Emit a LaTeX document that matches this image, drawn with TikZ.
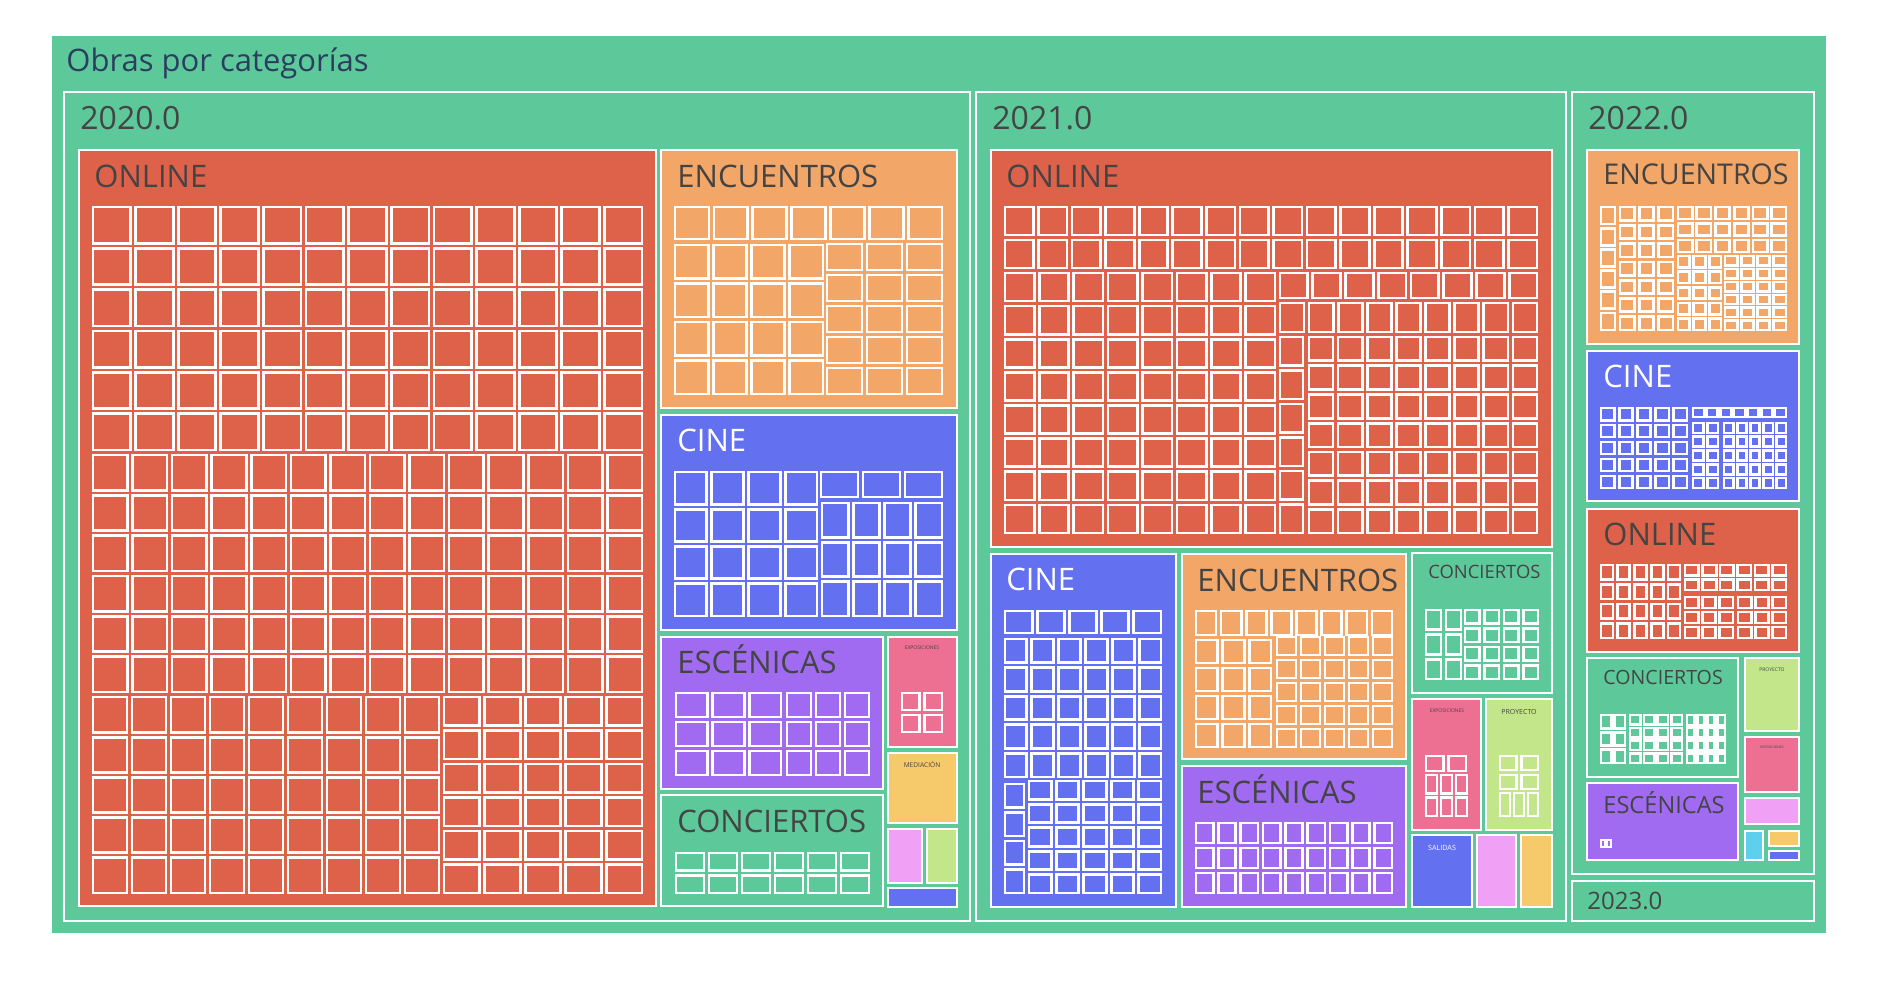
\documentclass[tikz,border=0pt]{standalone}
\usepackage{fontspec}
\setmainfont{Open Sans}
\usepackage{tikz}
\usetikzlibrary{positioning}
\definecolor{verde}{RGB}{93,201,154}
\definecolor{rojo}{RGB}{222,97,74}
\definecolor{naranja}{RGB}{242,166,104}
\definecolor{azul}{RGB}{99,113,241}
\definecolor{morado}{RGB}{160,107,240}
\definecolor{rosa}{RGB}{237,111,145}
\definecolor{amarillo}{RGB}{246,202,106}
\definecolor{lima}{RGB}{196,230,139}
\definecolor{malva}{RGB}{240,160,245}
\definecolor{cian}{RGB}{94,208,238}
\definecolor{gristxt}{RGB}{68,68,68}
\definecolor{titulo}{RGB}{42,63,95}
% rejilla de hojas: x0, y0, x1, y1, columnas, filas
\newcommand{\hojas}[6]{%
  \pgfmathsetmacro{\hg}{min(5,0.3*(#3-#1)/#5,0.3*(#4-#2)/#6)}%
  \pgfmathsetmacro{\hw}{(#3-#1+\hg)/#5}%
  \pgfmathsetmacro{\hh}{(#4-#2+\hg)/#6}%
  \foreach \i in {1,...,#5}{\foreach \j in {1,...,#6}{%
    \draw[hoja] ({#1+(\i-1)*\hw},{#2+(\j-1)*\hh}) rectangle ++({\hw-\hg},{\hh-\hg});}}}

\begin{document}
\begin{tikzpicture}[x=0.5pt, y=-0.5pt,
    caja/.style={draw=white, line width=1pt},
    hoja/.style={draw=white, line width=1.35pt},
    lbl/.style={inner sep=0, anchor=base west, text=gristxt, font=\fontsize{15.5}{18}\selectfont},
    slbl/.style={inner sep=0, anchor=base, text=gristxt}]
    \fill[white] (0,0) rectangle (1880,982);
    \useasboundingbox (0,0) rectangle (1880,982);

    % raiz
    \fill[verde] (52,36) rectangle (1826,933);
    \node[lbl, text=titulo] (raiz) at (66,71) {Obras por categorías};

    % años
    \draw[caja, fill=verde] (64,92) rectangle (970,921);
    \draw[caja, fill=verde] (976,92) rectangle (1566,921);
    \draw[caja, fill=verde] (1572,92) rectangle (1814,874);
    \draw[caja, fill=verde] (1572,881) rectangle (1814,921);
    \node[lbl, font=\fontsize{16}{19}\selectfont] (a20) at (80,129) {2020.0};
    \node[lbl, font=\fontsize{16}{19}\selectfont] (a21) at (992,129) {2021.0};
    \node[lbl, font=\fontsize{16}{19}\selectfont] (a22) at (1588,129) {2022.0};
    \node[lbl, font=\fontsize{12}{14}\selectfont] (a23) at (1587,909) {2023.0};

    % 2020
    \draw[caja, fill=rojo] (79,150) rectangle (656,906);
    \draw[caja, fill=naranja] (661,150) rectangle (957,408);
    \draw[caja, fill=azul] (661,415) rectangle (957,630);
    \draw[caja, fill=morado] (661,637) rectangle (883,789);
    \draw[caja, fill=verde] (661,795) rectangle (883,906);
    \draw[caja, fill=rosa] (888,637) rectangle (957,747);
    \draw[caja, fill=amarillo] (888,753) rectangle (957,823);
    \draw[caja, fill=malva] (888,829) rectangle (922,883);
    \draw[caja, fill=lima] (927,829) rectangle (957,883);
    \draw[caja, fill=azul] (888,888) rectangle (957,907);
    \node[lbl] (on20) at (94,187) {ONLINE};
    \node[lbl] (en20) at (677,187) {ENCUENTROS};
    \node[lbl, text=white] (ci20) at (677,451) {CINE};
    \node[lbl] (es20) at (677,673) {ESCÉNICAS};
    \node[lbl] (co20) at (677,832) {CONCIERTOS};
    \node[slbl, font=\fontsize{2.5}{3}\selectfont] (ex20) at (922,649) {EXPOSICIONES};
    \node[slbl, font=\fontsize{3.3}{4}\selectfont] (me20) at (922,767) {MEDIACIÓN};
    \hojas{93}{207}{642}{450}{13}{6}
    \hojas{93}{455}{642}{692}{14}{6}
    \hojas{93}{697}{439}{893}{9}{5}
    \hojas{444}{697}{642}{893}{5}{6}
    \hojas{675}{207}{942}{239}{7}{1}
    \hojas{675}{245}{823}{394}{4}{4}
    \hojas{827}{244}{942}{394}{3}{5}
    \hojas{675}{472}{817}{616}{4}{4}
    \hojas{821}{472}{942}{497}{3}{1}
    \hojas{822}{503}{942}{616}{4}{3}
    \hojas{676}{693}{781}{775}{3}{3}
    \hojas{787}{693}{869}{775}{3}{3}
    \hojas{676}{853}{869}{893}{6}{2}
    \hojas{902}{693}{942}{732}{2}{2}

    % 2021
    \draw[caja, fill=rojo] (991,150) rectangle (1552,547);
    \draw[caja, fill=azul] (991,554) rectangle (1176,907);
    \draw[caja, fill=naranja] (1182,554) rectangle (1406,759);
    \draw[caja, fill=morado] (1182,766) rectangle (1406,907);
    \draw[caja, fill=verde] (1412,553) rectangle (1552,693);
    \draw[caja, fill=rosa] (1412,699) rectangle (1481,830);
    \draw[caja, fill=lima] (1486,699) rectangle (1552,830);
    \draw[caja, fill=azul] (1412,835) rectangle (1472,907);
    \draw[caja, fill=malva] (1477,835) rectangle (1516,907);
    \draw[caja, fill=amarillo] (1521,835) rectangle (1552,907);
    \node[lbl] (on21) at (1006,187) {ONLINE};
    \node[lbl, text=white] (ci21) at (1006,590) {CINE};
    \node[lbl] (en21) at (1197,591) {ENCUENTROS};
    \node[lbl] (es21) at (1197,803) {ESCÉNICAS};
    \node[lbl, font=\fontsize{9.2}{11}\selectfont] (co21) at (1428,578) {CONCIERTOS};
    \node[slbl, font=\fontsize{2.5}{3}\selectfont] (ex21) at (1447,712) {EXPOSICIONES};
    \node[slbl, font=\fontsize{3.5}{4}\selectfont] (pr21) at (1519,714) {PROYECTO};
    \node[slbl, text=white, font=\fontsize{3.6}{4}\selectfont] (sa21) at (1442,850) {SALIDAS};
    \hojas{1005}{207}{1537}{268}{16}{2}
    \hojas{1005}{273}{1275}{533}{8}{8}
    \hojas{1280}{273}{1537}{298}{8}{1}
    \hojas{1280}{303}{1537}{332}{9}{1}
    \hojas{1280}{337}{1303}{533}{1}{6}
    \hojas{1309}{337}{1537}{533}{8}{7}
    \hojas{1005}{611}{1161}{633}{5}{1}
    \hojas{1005}{639}{1161}{777}{6}{5}
    \hojas{1005}{784}{1024}{893}{1}{4}
    \hojas{1029}{781}{1161}{893}{5}{5}
    \hojas{1196}{611}{1392}{635}{8}{1}
    \hojas{1196}{640}{1271}{747}{3}{4}
    \hojas{1277}{637}{1392}{747}{5}{5}
    \hojas{1196}{823}{1392}{893}{9}{3}
    \hojas{1426}{610}{1461}{679}{2}{3}
    \hojas{1465}{610}{1538}{679}{4}{4}
    \hojas{1426}{756}{1466}{771}{2}{1}
    \hojas{1426}{775}{1467}{816}{3}{2}
    \hojas{1500}{756}{1538}{789}{2}{2}
    \hojas{1500}{793}{1538}{816}{3}{1}

    % 2022
    \draw[caja, fill=naranja] (1587,150) rectangle (1799,344);
    \draw[caja, fill=azul] (1587,351) rectangle (1799,501);
    \draw[caja, fill=rojo] (1587,509) rectangle (1799,652);
    \draw[caja, fill=verde] (1587,658) rectangle (1738,777);
    \draw[caja, fill=lima] (1745,658) rectangle (1799,731);
    \draw[caja, fill=rosa] (1745,737) rectangle (1799,792);
    \draw[caja, fill=malva] (1745,798) rectangle (1799,824);
    \draw[caja, fill=morado] (1587,783) rectangle (1738,860);
    \draw[caja, fill=cian] (1745,831) rectangle (1763,860);
    \draw[caja, fill=amarillo] (1769,831) rectangle (1799,846);
    \draw[caja, fill=azul] (1769,851) rectangle (1799,860);
    \node[lbl, font=\fontsize{14.3}{17}\selectfont] (en22) at (1603,184) {ENCUENTROS};
    \node[lbl, text=white] (ci22) at (1603,387) {CINE};
    \node[lbl] (on22) at (1603,545) {ONLINE};
    \node[lbl, font=\fontsize{9.8}{11}\selectfont] (co22) at (1603,684) {CONCIERTOS};
    \node[lbl, font=\fontsize{11.8}{14}\selectfont] (es22) at (1603,813) {ESCÉNICAS};
    \node[slbl, font=\fontsize{2.5}{3}\selectfont] (pr22) at (1772,671) {PROYECTO};
    \node[slbl, font=\fontsize{1.7}{2}\selectfont] (ex22) at (1772,748) {EXPOSICIONES};
    \hojas{1601}{207}{1615}{330}{1}{6}
    \hojas{1620}{207}{1673}{330}{3}{7}
    \hojas{1678}{207}{1786}{252}{6}{3}
    \hojas{1678}{256}{1721}{330}{3}{5}
    \hojas{1725}{256}{1786}{330}{4}{6}
    \hojas{1601}{408}{1687}{488}{5}{5}
    \hojas{1693}{408}{1786}{417}{7}{1}
    \hojas{1693}{423}{1718}{488}{2}{5}
    \hojas{1724}{423}{1786}{488}{5}{5}
    \hojas{1601}{565}{1680}{638}{5}{4}
    \hojas{1685}{565}{1786}{590}{6}{2}
    \hojas{1685}{597}{1733}{638}{3}{3}
    \hojas{1738}{597}{1786}{638}{3}{3}
    \hojas{1601}{715}{1625}{763}{2}{3}
    \hojas{1630}{715}{1682}{763}{4}{4}
    \hojas{1687}{715}{1725}{763}{4}{4}
    \hojas{1601}{840}{1611}{847}{2}{1}
\end{tikzpicture}
\end{document}
